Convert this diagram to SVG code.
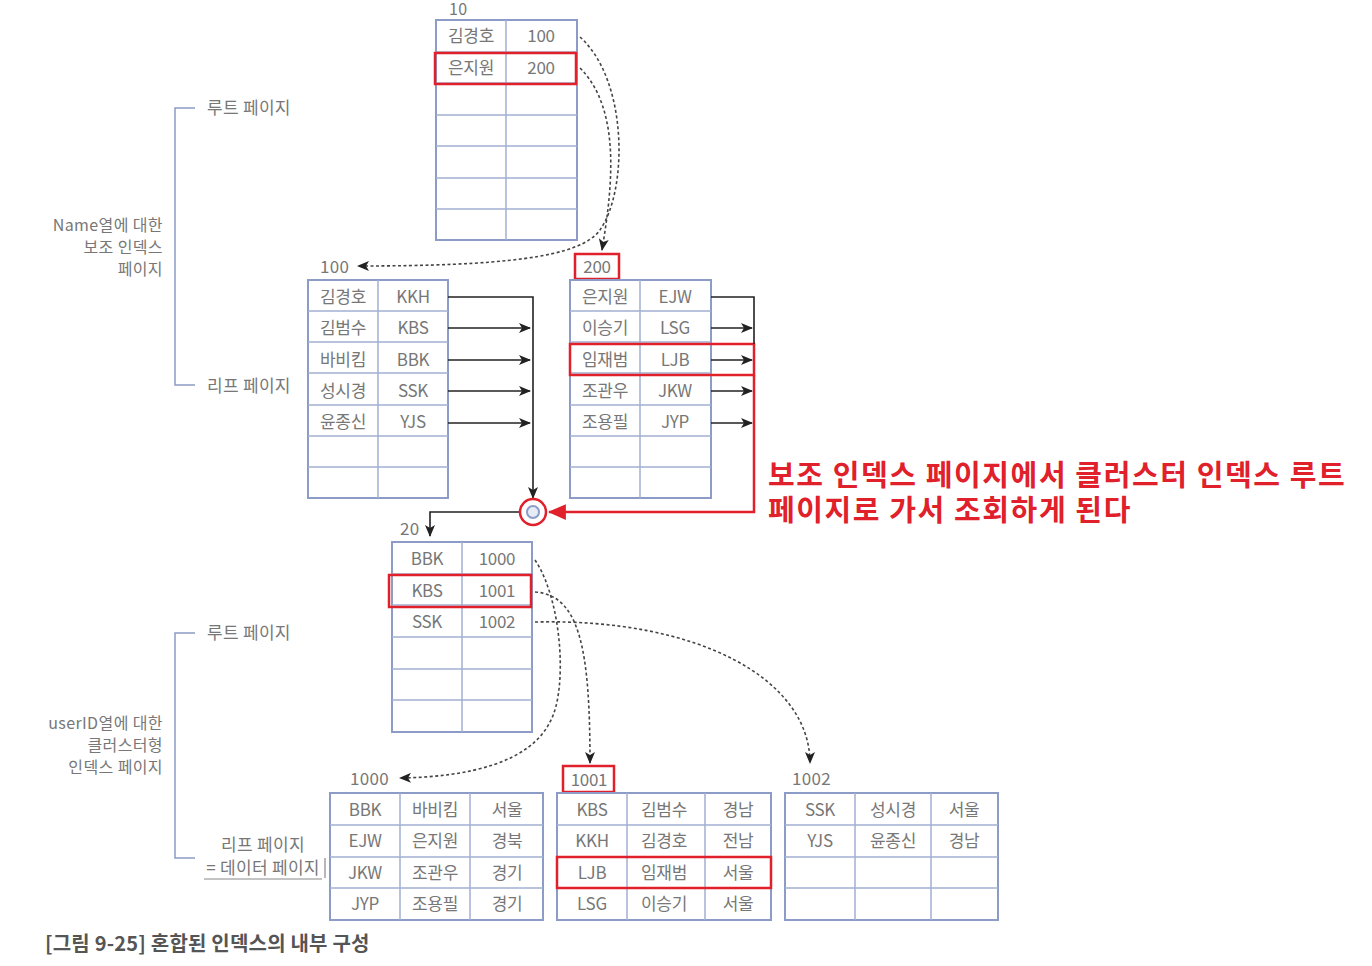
<svg xmlns="http://www.w3.org/2000/svg" width="1372" height="966" viewBox="0 0 1372 966">
<defs>
<style>
.tb{fill:#fff;stroke:#8d9cc6;stroke-width:2}
.gl{stroke:#a3b0d2;stroke-width:1.5}
.ct{font-family:"Noto Sans CJK KR","Liberation Sans",sans-serif;font-size:17px;fill:#777;text-anchor:middle;letter-spacing:-0.3px}
.lb{font-family:"Noto Sans CJK KR","Liberation Sans",sans-serif;font-size:17px;fill:#777;letter-spacing:0.3px}
.sd{font-family:"Noto Sans CJK KR","Liberation Sans",sans-serif;font-size:16px;fill:#777;text-anchor:end;letter-spacing:0.4px}
.hl{fill:none;stroke:#e0202a;stroke-width:2.5}
.dash{fill:none;stroke:#444;stroke-width:1.6;stroke-dasharray:3 2.5}
.solid{fill:none;stroke:#222;stroke-width:1.6}
.red{fill:none;stroke:#e0202a;stroke-width:2.5}
.br{fill:none;stroke:#8d9cc6;stroke-width:1.5}
.note{font-family:"Noto Sans CJK KR","Liberation Sans",sans-serif;font-size:29px;font-weight:bold;fill:#e0202a;letter-spacing:1.6px}
</style>
<marker id="ah" viewBox="0 0 12 10" refX="11" refY="5" markerWidth="12" markerHeight="10" markerUnits="userSpaceOnUse" orient="auto"><path d="M0,0 L12,5 L0,10 L3,5 z" fill="#222"/></marker>
<marker id="ahr" viewBox="0 0 16 14" refX="15" refY="7" markerWidth="18" markerHeight="16" markerUnits="userSpaceOnUse" orient="auto"><path d="M0,0 L16,7 L0,14 z" fill="#e0202a"/></marker>
</defs>
<rect width="1372" height="966" fill="#fff"/>

<!-- side brackets -->
<g id="bracket-secondary">
<path class="br" d="M195,108 H175 V385 H195"/>
<text class="lb" x="207" y="114">루트 페이지</text>
<text class="lb" x="207" y="392">리프 페이지</text>
<text class="sd" x="163" y="231">Name열에 대한</text>
<text class="sd" x="163" y="253">보조 인덱스</text>
<text class="sd" x="163" y="275">페이지</text>
</g>
<g id="bracket-clustered">
<path class="br" d="M195,633 H175 V858 H195"/>
<text class="lb" x="207" y="639">루트 페이지</text>
<text class="ct" x="263" y="851" style="letter-spacing:0.3px">리프 페이지</text>
<text class="ct" x="263" y="874" style="letter-spacing:0.3px">= 데이터 페이지</text>
<line x1="204" y1="879" x2="322" y2="879" stroke="#888" stroke-width="1"/>
<line x1="325" y1="858" x2="325" y2="878" stroke="#888" stroke-width="1.2"/>
<text class="sd" x="163" y="729">userID열에 대한</text>
<text class="sd" x="163" y="751">클러스터형</text>
<text class="sd" x="163" y="773">인덱스 페이지</text>
</g>

<!-- root page 10 -->
<g id="page-10">
<text class="lb" x="449" y="15" style="font-size:16px">10</text>
<rect class="tb" x="436" y="20" width="141" height="220"/>
<path class="gl" d="M436,52H577M436,83H577M436,115H577M436,146H577M436,178H577M436,209H577M506,20V240"/>
<text class="ct" x="471" y="42">김경호</text><text class="ct" x="541" y="42">100</text>
<text class="ct" x="471" y="74">은지원</text><text class="ct" x="541" y="74">200</text>
<rect class="hl" x="435" y="53" width="141" height="31"/>
</g>

<!-- leaf page 100 -->
<g id="page-100">
<text class="lb" x="320" y="273">100</text>
<rect class="tb" x="308" y="280" width="140" height="218"/>
<path class="gl" d="M308,311H448M308,342H448M308,373H448M308,405H448M308,436H448M308,467H448M378,280V498"/>
<text class="ct" x="343" y="303">김경호</text><text class="ct" x="413" y="303">KKH</text>
<text class="ct" x="343" y="334">김범수</text><text class="ct" x="413" y="334">KBS</text>
<text class="ct" x="343" y="366">바비킴</text><text class="ct" x="413" y="366">BBK</text>
<text class="ct" x="343" y="397">성시경</text><text class="ct" x="413" y="397">SSK</text>
<text class="ct" x="343" y="428">윤종신</text><text class="ct" x="413" y="428">YJS</text>
</g>

<!-- leaf page 200 -->
<g id="page-200">
<rect class="hl" x="575" y="254" width="44" height="25"/>
<text class="ct" x="597" y="273">200</text>
<rect class="tb" x="570" y="280" width="141" height="218"/>
<path class="gl" d="M570,311H711M570,342H711M570,373H711M570,405H711M570,436H711M570,467H711M640,280V498"/>
<text class="ct" x="605" y="303">은지원</text><text class="ct" x="675" y="303">EJW</text>
<text class="ct" x="605" y="334">이승기</text><text class="ct" x="675" y="334">LSG</text>
<text class="ct" x="605" y="366">임재범</text><text class="ct" x="675" y="366">LJB</text>
<text class="ct" x="605" y="397">조관우</text><text class="ct" x="675" y="397">JKW</text>
<text class="ct" x="605" y="428">조용필</text><text class="ct" x="675" y="428">JYP</text>
<rect class="hl" x="570" y="344" width="184" height="31"/>
</g>

<!-- clustered root page 20 -->
<g id="page-20">
<text class="lb" x="400" y="535">20</text>
<rect class="tb" x="392" y="542" width="140" height="190"/>
<path class="gl" d="M392,574H532M392,605H532M392,637H532M392,669H532M392,700H532M462,542V732"/>
<text class="ct" x="427" y="565">BBK</text><text class="ct" x="497" y="565">1000</text>
<text class="ct" x="427" y="597">KBS</text><text class="ct" x="497" y="597">1001</text>
<text class="ct" x="427" y="628">SSK</text><text class="ct" x="497" y="628">1002</text>
<rect class="hl" x="389" y="575" width="142" height="32"/>
</g>

<!-- data page 1000 -->
<g id="page-1000">
<text class="lb" x="350" y="785">1000</text>
<rect class="tb" x="330" y="793" width="213" height="127"/>
<path class="gl" d="M330,825H543M330,857H543M330,888H543M400,793V920M470,793V920"/>
<text class="ct" x="365" y="816">BBK</text><text class="ct" x="435" y="816">바비킴</text><text class="ct" x="507" y="816">서울</text>
<text class="ct" x="365" y="847">EJW</text><text class="ct" x="435" y="847">은지원</text><text class="ct" x="507" y="847">경북</text>
<text class="ct" x="365" y="879">JKW</text><text class="ct" x="435" y="879">조관우</text><text class="ct" x="507" y="879">경기</text>
<text class="ct" x="365" y="910">JYP</text><text class="ct" x="435" y="910">조용필</text><text class="ct" x="507" y="910">경기</text>
</g>

<!-- data page 1001 -->
<g id="page-1001">
<rect class="hl" x="563" y="766" width="51" height="26"/>
<text class="ct" x="589" y="786">1001</text>
<rect class="tb" x="557" y="793" width="214" height="127"/>
<path class="gl" d="M557,825H771M557,857H771M557,888H771M627,793V920M705,793V920"/>
<text class="ct" x="592" y="816">KBS</text><text class="ct" x="664" y="816">김범수</text><text class="ct" x="738" y="816">경남</text>
<text class="ct" x="592" y="847">KKH</text><text class="ct" x="664" y="847">김경호</text><text class="ct" x="738" y="847">전남</text>
<text class="ct" x="592" y="879">LJB</text><text class="ct" x="664" y="879">임재범</text><text class="ct" x="738" y="879">서울</text>
<text class="ct" x="592" y="910">LSG</text><text class="ct" x="664" y="910">이승기</text><text class="ct" x="738" y="910">서울</text>
<rect class="hl" x="557" y="857" width="214" height="31"/>
</g>

<!-- data page 1002 -->
<g id="page-1002">
<text class="lb" x="792" y="785">1002</text>
<rect class="tb" x="785" y="793" width="213" height="127"/>
<path class="gl" d="M785,825H998M785,857H998M785,888H998M855,793V920M931,793V920"/>
<text class="ct" x="820" y="816">SSK</text><text class="ct" x="893" y="816">성시경</text><text class="ct" x="964" y="816">서울</text>
<text class="ct" x="820" y="847">YJS</text><text class="ct" x="893" y="847">윤종신</text><text class="ct" x="964" y="847">경남</text>
</g>

<!-- connectors -->
<g id="connectors">
<path class="dash" d="M580,37 C628,80 628,190 600,230 C580,258 500,266 358,266" marker-end="url(#ah)"/>
<path class="dash" d="M580,68 C622,110 612,190 602,250" marker-end="url(#ah)"/>
<path class="solid" d="M448,297 H533 V498" marker-end="url(#ah)"/>
<path class="solid" d="M448,328 H530" marker-end="url(#ah)"/>
<path class="solid" d="M448,360 H530" marker-end="url(#ah)"/>
<path class="solid" d="M448,391 H530" marker-end="url(#ah)"/>
<path class="solid" d="M448,423 H530" marker-end="url(#ah)"/>
<path class="solid" d="M711,297 H754 V344"/>
<path class="solid" d="M711,328 H752" marker-end="url(#ah)"/>
<path class="solid" d="M711,360 H752" marker-end="url(#ah)"/>
<path class="solid" d="M711,391 H752" marker-end="url(#ah)"/>
<path class="solid" d="M711,423 H752" marker-end="url(#ah)"/>
<path class="red" d="M754,375 V512 H549" marker-end="url(#ahr)"/>
<path class="solid" d="M520,512 H430 V536" marker-end="url(#ah)"/>
<circle cx="533" cy="512" r="13" fill="#fff" stroke="#e0202a" stroke-width="2.5"/>
<circle cx="533" cy="512" r="6" fill="#e6ecf6" stroke="#8d9cc6" stroke-width="2"/>
<path class="dash" d="M535,560 C562,600 568,690 550,722 C530,762 470,777 400,778" marker-end="url(#ah)"/>
<path class="dash" d="M535,592 C580,595 590,650 590,763" marker-end="url(#ah)"/>
<path class="dash" d="M535,622 C700,618 810,680 810,763" marker-end="url(#ah)"/>
</g>

<g id="note">
<text class="note" x="768" y="486">보조 인덱스 페이지에서 클러스터 인덱스 루트</text>
<text class="note" x="768" y="521">페이지로 가서 조회하게 된다</text>
</g>

<text x="45" y="951" font-family="'Noto Sans CJK KR','Liberation Sans',sans-serif" font-size="20" font-weight="bold" fill="#555" letter-spacing="0.2">[그림 9-25] 혼합된 인덱스의 내부 구성</text>
</svg>
